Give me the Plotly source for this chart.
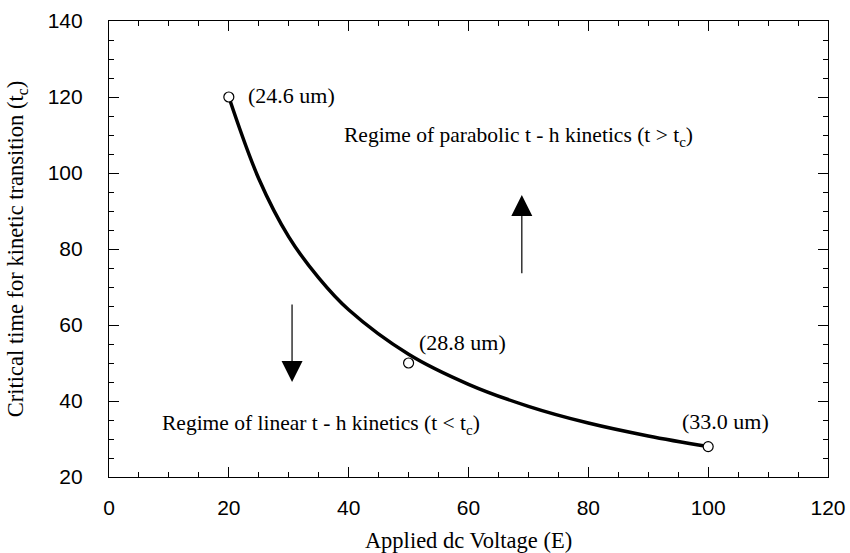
import plotly.graph_objects as go

# Measured points (open circles)
voltage = [20, 50, 100]
crit_time = [120, 50, 28]
thickness_labels = ["(24.6 um)", "(28.8 um)", "(33.0 um)"]

# Fitted curve
curve_x = [20, 25, 30, 35, 40, 50, 60, 70, 80, 90, 100]
curve_y = [120, 98.5, 83.2, 72.4, 64.0, 52.3, 44.4, 38.6, 34.2, 30.8, 28.0]

# Label anchor positions (data units)
label_x = [22.9, 51.4, 95.3]
label_y = [120.5, 55.3, 34.5]

serif = "Liberation Serif, Times New Roman, serif"
sans = "Liberation Sans, Arial, sans-serif"

fig = go.Figure()
fig.add_trace(go.Scatter(x=curve_x, y=curve_y, mode="lines",
                         line=dict(color="black", width=3.5, shape="spline", smoothing=1.0),
                         showlegend=False, hoverinfo="skip"))
fig.add_trace(go.Scatter(x=voltage, y=crit_time, mode="markers",
                         marker=dict(symbol="circle", size=10, color="white",
                                     line=dict(color="black", width=1.2)),
                         showlegend=False))

for t, x, y in zip(thickness_labels, label_x, label_y):
    fig.add_annotation(x=x, y=y, text=t, showarrow=False, xanchor="left", yanchor="middle",
                       font=dict(family=serif, size=22, color="black"))

fig.add_annotation(x=38.9, y=109.5, text="Regime of parabolic t - h kinetics (t > t<sub>c</sub>)",
                   showarrow=False, xanchor="left", yanchor="middle",
                   font=dict(family=serif, size=21.5, color="black"))
fig.add_annotation(x=8.5, y=33.7, text="Regime of linear t - h kinetics (t < t<sub>c</sub>)",
                   showarrow=False, xanchor="left", yanchor="middle",
                   font=dict(family=serif, size=21.5, color="black"))

# Arrows
fig.add_annotation(x=30.55, y=45, ax=30.55, ay=65.8, xref="x", yref="y", axref="x", ayref="y",
                   text="", showarrow=True, arrowhead=2, arrowsize=3.5, arrowwidth=1.2, arrowcolor="black")
fig.add_annotation(x=68.9, y=94.2, ax=68.9, ay=73.2, xref="x", yref="y", axref="x", ayref="y",
                   text="", showarrow=True, arrowhead=2, arrowsize=3.5, arrowwidth=1.2, arrowcolor="black")

axis_common = dict(showgrid=False, zeroline=False, showline=True, linecolor="black", linewidth=1.2,
                   mirror="ticks", ticks="inside", ticklen=10, tickwidth=1, tickcolor="black",
                   automargin=False,
                   tickfont=dict(family=sans, size=21, color="black"),
                   minor=dict(dtick=5, ticks="inside", ticklen=5, tickcolor="black", tickwidth=1))

fig.update_xaxes(range=[0, 120], dtick=20, tick0=0, ticklabelstandoff=12,
                 title=dict(text="Applied dc Voltage (E)", font=dict(family=serif, size=22.5, color="black"),
                            standoff=16),
                 **axis_common)
fig.update_yaxes(range=[20, 140], dtick=20, tick0=20, ticklabelstandoff=21,
                 title=dict(text="Critical time for kinetic transition (t<sub>c</sub>)",
                            font=dict(family=serif, size=22.5, color="black"), standoff=17),
                 **axis_common)

fig.update_layout(width=850, height=553, margin=dict(l=109, r=22, t=21, b=76),
                  plot_bgcolor="white", paper_bgcolor="white")

fig.write_html("out.html")
